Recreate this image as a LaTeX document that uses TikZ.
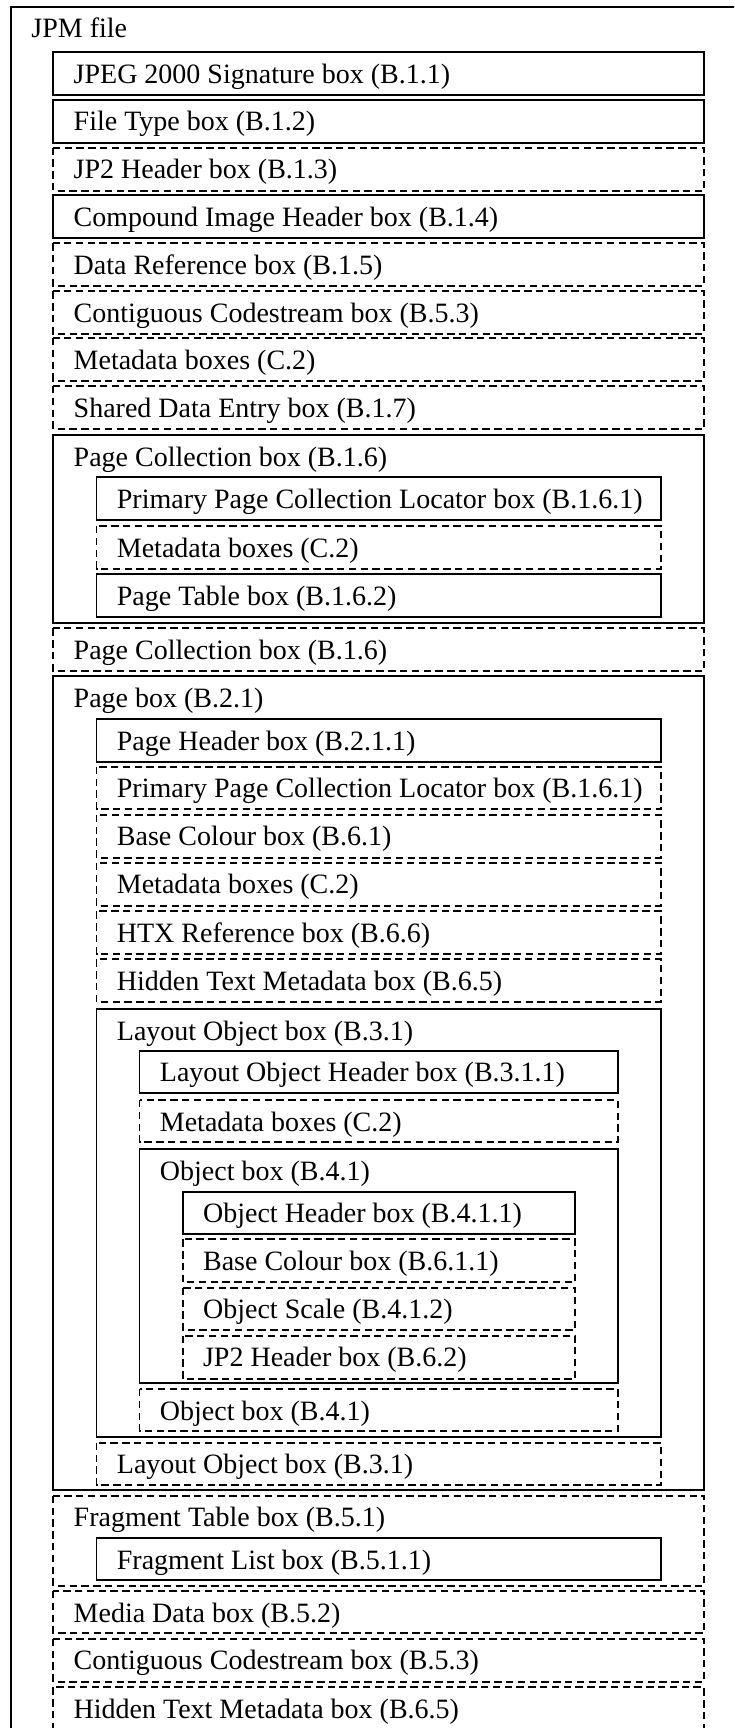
\documentclass[tikz,border=0pt]{standalone}
\usepackage{fontspec}
\setmainfont{Liberation Serif}
\tikzset{
  solidbox/.style={draw=black, line width=0.9pt},
  dashbox/.style={draw=black, line width=0.9pt, dash pattern=on 3.7pt off 2.2pt},
  lbl/.style={anchor=base west, inner sep=0pt, font=\fontsize{14}{16}\selectfont}
}
% #1 name, #2 style, #3 left, #4 top, #5 right, #6 bottom, #7 text
\newcommand{\jbox}[7]{%
  \draw[#2] (#3,#4) rectangle (#5,#6);
  \node[lbl] (#1) at ({#3+20},{#4+31}) {#7};
}
\begin{document}
\begin{tikzpicture}[x=0.5pt, y=-0.5pt]
\useasboundingbox (0,0) rectangle (734,1728);
\clip (0,0) rectangle (734,1728);
\fill[white] (0,0) rectangle (734,1728);
% outer
\jbox{jpm}{solidbox}{11}{7}{790}{1790}{JPM file}
% level 1
\def\La{53.3}\def\Ra{704}
\jbox{sig}{solidbox}{\La}{52.3}{\Ra}{95}{JPEG 2000 Signature box (B.1.1)}
\jbox{ftyp}{solidbox}{\La}{100}{\Ra}{142.7}{File Type box (B.1.2)}
\jbox{jphA}{dashbox}{\La}{147.7}{\Ra}{190.7}{JP2 Header box (B.1.3)}
\jbox{cih}{solidbox}{\La}{195.3}{\Ra}{238}{Compound Image Header box (B.1.4)}
\jbox{dref}{dashbox}{\La}{243.3}{\Ra}{286}{Data Reference box (B.1.5)}
\jbox{jpcA}{dashbox}{\La}{291.3}{\Ra}{334}{Contiguous Codestream box (B.5.3)}
\jbox{metaA}{dashbox}{\La}{338}{\Ra}{380.7}{Metadata boxes (C.2)}
\jbox{shared}{dashbox}{\La}{386}{\Ra}{429}{Shared Data Entry box (B.1.7)}
\jbox{pcolA}{solidbox}{\La}{435}{\Ra}{622.7}{Page Collection box (B.1.6)}
% level 2 inside page collection
\def\Lb{96.5}\def\Rb{660.7}
\jbox{pclA}{solidbox}{\Lb}{477.3}{\Rb}{520}{Primary Page Collection Locator box (B.1.6.1)}
\jbox{metaB}{dashbox}{\Lb}{526}{\Rb}{568.7}{Metadata boxes (C.2)}
\jbox{ptbl}{solidbox}{\Lb}{574.3}{\Rb}{616.7}{Page Table box (B.1.6.2)}
\jbox{pcolB}{dashbox}{\La}{628.3}{\Ra}{671}{Page Collection box (B.1.6)}
% page box
\jbox{page}{solidbox}{\La}{676}{\Ra}{1490}{Page box (B.2.1)}
\jbox{phdr}{solidbox}{\Lb}{719}{\Rb}{761.7}{Page Header box (B.2.1.1)}
\jbox{pclB}{dashbox}{\Lb}{766.7}{\Rb}{809.3}{Primary Page Collection Locator box (B.1.6.1)}
\jbox{bclrA}{dashbox}{\Lb}{814.7}{\Rb}{857.7}{Base Colour box (B.6.1)}
\jbox{metaC}{dashbox}{\Lb}{862.7}{\Rb}{905.7}{Metadata boxes (C.2)}
\jbox{htx}{dashbox}{\Lb}{911.3}{\Rb}{954}{HTX Reference box (B.6.6)}
\jbox{htmdA}{dashbox}{\Lb}{959.3}{\Rb}{1002.3}{Hidden Text Metadata box (B.6.5)}
\jbox{lobjA}{solidbox}{\Lb}{1009}{\Rb}{1436.7}{Layout Object box (B.3.1)}
% level 3
\def\Lc{139.5}\def\Rc{617.7}
\jbox{lhdr}{solidbox}{\Lc}{1050.7}{\Rc}{1093.3}{Layout Object Header box (B.3.1.1)}
\jbox{metaD}{dashbox}{\Lc}{1100}{\Rc}{1142.3}{Metadata boxes (C.2)}
\jbox{objA}{solidbox}{\Lc}{1149}{\Rc}{1382.7}{Object box (B.4.1)}
% level 4
\def\Ld{182.7}\def\Rd{575}
\jbox{ohdr}{solidbox}{\Ld}{1191.7}{\Rd}{1234}{Object Header box (B.4.1.1)}
\jbox{bclrB}{dashbox}{\Ld}{1239.3}{\Rd}{1282.3}{Base Colour box (B.6.1.1)}
\jbox{oscl}{dashbox}{\Ld}{1287.7}{\Rd}{1330}{Object Scale (B.4.1.2)}
\jbox{jphB}{dashbox}{\Ld}{1335.7}{\Rd}{1379}{JP2 Header box (B.6.2)}
\jbox{objB}{dashbox}{\Lc}{1389}{\Rc}{1431}{Object box (B.4.1)}
\jbox{lobjB}{dashbox}{\Lb}{1442.7}{\Rb}{1485}{Layout Object box (B.3.1)}
% after page box
\jbox{ftbl}{dashbox}{\La}{1495.7}{\Ra}{1585.7}{Fragment Table box (B.5.1)}
\jbox{flst}{solidbox}{\Lb}{1538.3}{\Rb}{1580}{Fragment List box (B.5.1.1)}
\jbox{mdat}{dashbox}{\La}{1591}{\Ra}{1633.3}{Media Data box (B.5.2)}
\jbox{jpcB}{dashbox}{\La}{1638.7}{\Ra}{1681.7}{Contiguous Codestream box (B.5.3)}
\jbox{htmdB}{dashbox}{\La}{1687.3}{\Ra}{1732}{Hidden Text Metadata box (B.6.5)}
\end{tikzpicture}
\end{document}
